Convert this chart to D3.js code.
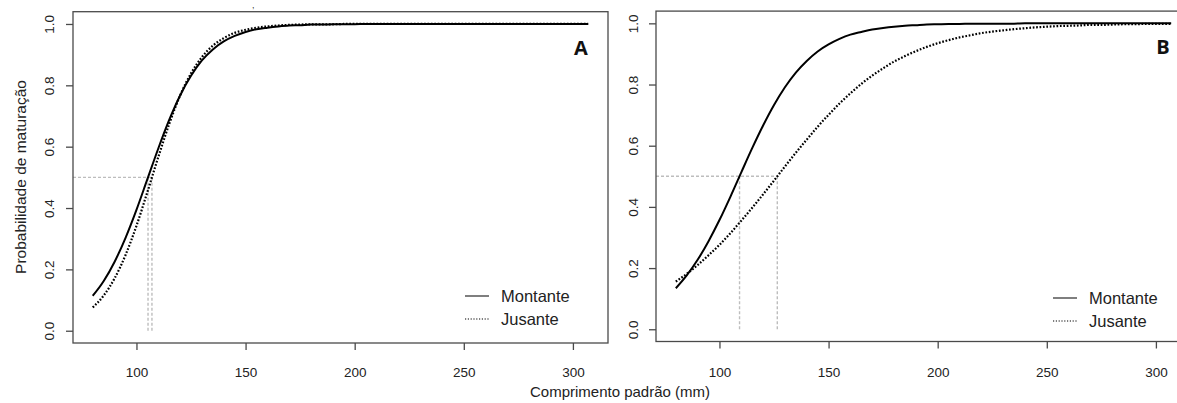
<!DOCTYPE html>
<html><head><meta charset="utf-8">
<script src="https://cdn.jsdelivr.net/npm/d3@7"></script>
<style>
html,body{margin:0;padding:0;background:#fff;}
svg{display:block;font-family:"Liberation Sans",Arial,sans-serif;}
</style></head>
<body>
<svg id="chart" width="1177" height="403"></svg>
<script>
// Standard length (mm)
const lengths = [80,85,90,95,100,105,110,115,120,125,130,135,140,145,150,155,160,165,170,175,180,185,190,195,200,205,210,215,220,225,230,235,240,245,250,255,260,265,270,275,280,285,290,295,300,305,307];
// Panel A
const montanteA = [0.114,0.162,0.225,0.303,0.394,0.494,0.594,0.687,0.767,0.831,0.881,0.917,0.943,0.961,0.974,0.983,0.988,0.992,0.995,0.996,0.998,0.998,0.999,0.999,0.999,1,1,1,1,1,1,1,1,1,1,1,1,1,1,1,1,1,1,1,1,1,1];
const jusanteA  = [0.076,0.115,0.171,0.247,0.342,0.452,0.566,0.674,0.767,0.839,0.892,0.929,0.954,0.971,0.981,0.988,0.992,0.995,0.997,0.998,0.999,0.999,0.999,1,1,1,1,1,1,1,1,1,1,1,1,1,1,1,1,1,1,1,1,1,1,1,1];
// Panel B
const montanteB = [0.134,0.176,0.227,0.288,0.357,0.433,0.513,0.592,0.666,0.733,0.791,0.839,0.877,0.908,0.931,0.949,0.963,0.972,0.980,0.985,0.989,0.992,0.994,0.996,0.997,0.998,0.998,0.999,0.999,0.999,0.999,0.999,1,1,1,1,1,1,1,1,1,1,1,1,1,1,1];
const jusanteB  = [0.156,0.181,0.210,0.242,0.276,0.314,0.355,0.397,0.441,0.486,0.532,0.577,0.620,0.662,0.701,0.738,0.771,0.802,0.829,0.853,0.875,0.893,0.909,0.923,0.935,0.945,0.954,0.961,0.968,0.973,0.977,0.981,0.984,0.987,0.989,0.991,0.992,0.993,0.995,0.995,0.996,0.997,0.997,0.998,0.998,0.998,0.998];
// L50 (length at 50% maturity)
const l50A = [105.3, 107.1];
const l50B = [109.2, 126.5];
const xTicks = [100,150,200,250,300];
const yTicks = [0,0.2,0.4,0.6,0.8,1.0];
const seriesNames = ["Montante","Jusante"];
const panelLabels = ["A","B"];
const xTitle = "Comprimento padrão (mm)";
const yTitle = "Probabilidade de maturação";

const svg = d3.select("#chart");
const xDomain = [70.92, 316.08];

const panels = [
  {label:panelLabels[0], mon:montanteA, jus:jusanteA, l50:l50A,
   x:[73,608], y:[343,11.7], ylabX:49, legX:465, legY:296, labX:581, labY:55},
  {label:panelLabels[1], mon:montanteB, jus:jusanteB, l50:l50B,
   x:[656,1191], y:[341.5,11.1], ylabX:633, legX:1053, legY:298, labX:1163, labY:53.5}
];

panels.forEach(p => {
  const x = d3.scaleLinear().domain(xDomain).range(p.x);
  const y = d3.scaleLinear().domain([-0.04,1.04]).range(p.y);
  const g = svg.append("g");
  const clipId = "clip" + p.label;
  svg.append("clipPath").attr("id", clipId).append("rect")
     .attr("x", p.x[0]).attr("y", p.y[1]).attr("width", p.x[1]-p.x[0]).attr("height", p.y[0]-p.y[1]);

  // reference lines at 50%
  const ref = g.append("g").attr("clip-path", `url(#${clipId})`)
     .attr("stroke","#bdbdbd").attr("stroke-width",1.4).attr("stroke-dasharray","3,2").attr("fill","none");
  ref.append("line").attr("x1", p.x[0]).attr("x2", x(d3.max(p.l50)))
     .attr("y1", y(0.5)).attr("y2", y(0.5));
  p.l50.forEach(v => {
    ref.append("line").attr("x1", x(v)).attr("x2", x(v)).attr("y1", y(0)).attr("y2", y(0.5));
  });

  const line = d3.line().x((d,i)=>x(lengths[i])).y(d=>y(d)).curve(d3.curveMonotoneX);
  const cg = g.append("g").attr("clip-path", `url(#${clipId})`).attr("fill","none");
  cg.append("path").datum(p.mon).attr("d", line).attr("stroke","#000").attr("stroke-width",2);
  cg.append("path").datum(p.jus).attr("d", line).attr("stroke","#000").attr("stroke-width",2.2)
    .attr("stroke-dasharray","1.7,1.7");

  // box
  g.append("rect").attr("x", p.x[0]).attr("y", p.y[1]).attr("width", p.x[1]-p.x[0]).attr("height", p.y[0]-p.y[1])
   .attr("fill","none").attr("stroke","#4a4a4a").attr("stroke-width",1.3);

  // x axis
  const xa = g.append("g").attr("transform", `translate(0,${p.y[0]})`)
    .call(d3.axisBottom(x).tickValues(xTicks).tickSize(7).tickFormat(d3.format("d")));
  xa.select(".domain").remove();
  xa.selectAll("line").attr("stroke","#4a4a4a").attr("stroke-width",1.3);
  xa.selectAll("text").attr("fill","#222").attr("font-size",13.5)
    .attr("font-family","Liberation Sans, Arial, sans-serif")
    .attr("y", 372 - p.y[0]).attr("dy","0.36em");

  // y axis
  const ya = g.append("g").attr("transform", `translate(${p.x[0]},0)`)
    .call(d3.axisLeft(y).tickValues(yTicks).tickSize(7).tickFormat(d3.format(".1f")));
  ya.select(".domain").remove();
  ya.selectAll("line").attr("stroke","#4a4a4a").attr("stroke-width",1.3);
  ya.selectAll("text").attr("x", null).attr("dy", "0.36em").attr("fill","#222").attr("font-size",13.5)
    .attr("font-family","Liberation Sans, Arial, sans-serif")
    .attr("text-anchor","middle")
    .attr("transform", `translate(${p.ylabX - p.x[0]},0) rotate(-90)`);

  // panel label
  g.append("text").attr("x", p.labX).attr("y", p.labY).attr("text-anchor","middle")
   .attr("font-weight","bold").attr("font-size",20).attr("font-family","Open Sans, Liberation Sans, sans-serif")
   .attr("fill","#111").text(p.label);

  // legend
  const lg = g.append("g");
  seriesNames.forEach((name,i) => {
    const yy = p.legY + i*23;
    lg.append("line").attr("x1", p.legX).attr("x2", p.legX+24).attr("y1", yy).attr("y2", yy)
      .attr("stroke","#555").attr("stroke-width", i===0 ? 1.5 : 1.4)
      .attr("stroke-dasharray", i===0 ? null : "1.2,1.6");
    lg.append("text").attr("x", p.legX+36).attr("y", yy).attr("dy","0.36em")
      .attr("font-size",16.5).attr("fill","#222").text(name);
  });
});

// axis titles
svg.append("text").attr("x", 620).attr("y", 397).attr("text-anchor","middle")
  .attr("font-size",15).attr("fill","#222").text(xTitle);
svg.append("text").attr("transform","translate(20,177) rotate(-90)").attr("text-anchor","middle")
  .attr("dy","0.36em").attr("font-size",15.5).attr("fill","#222").text(yTitle);
// small fragment of text above the figure (kept fully inside the picture)
svg.append("text").attr("x", 252).attr("y", 8).attr("font-size",9).attr("fill","#333").text(",");
</script>
</body></html>
